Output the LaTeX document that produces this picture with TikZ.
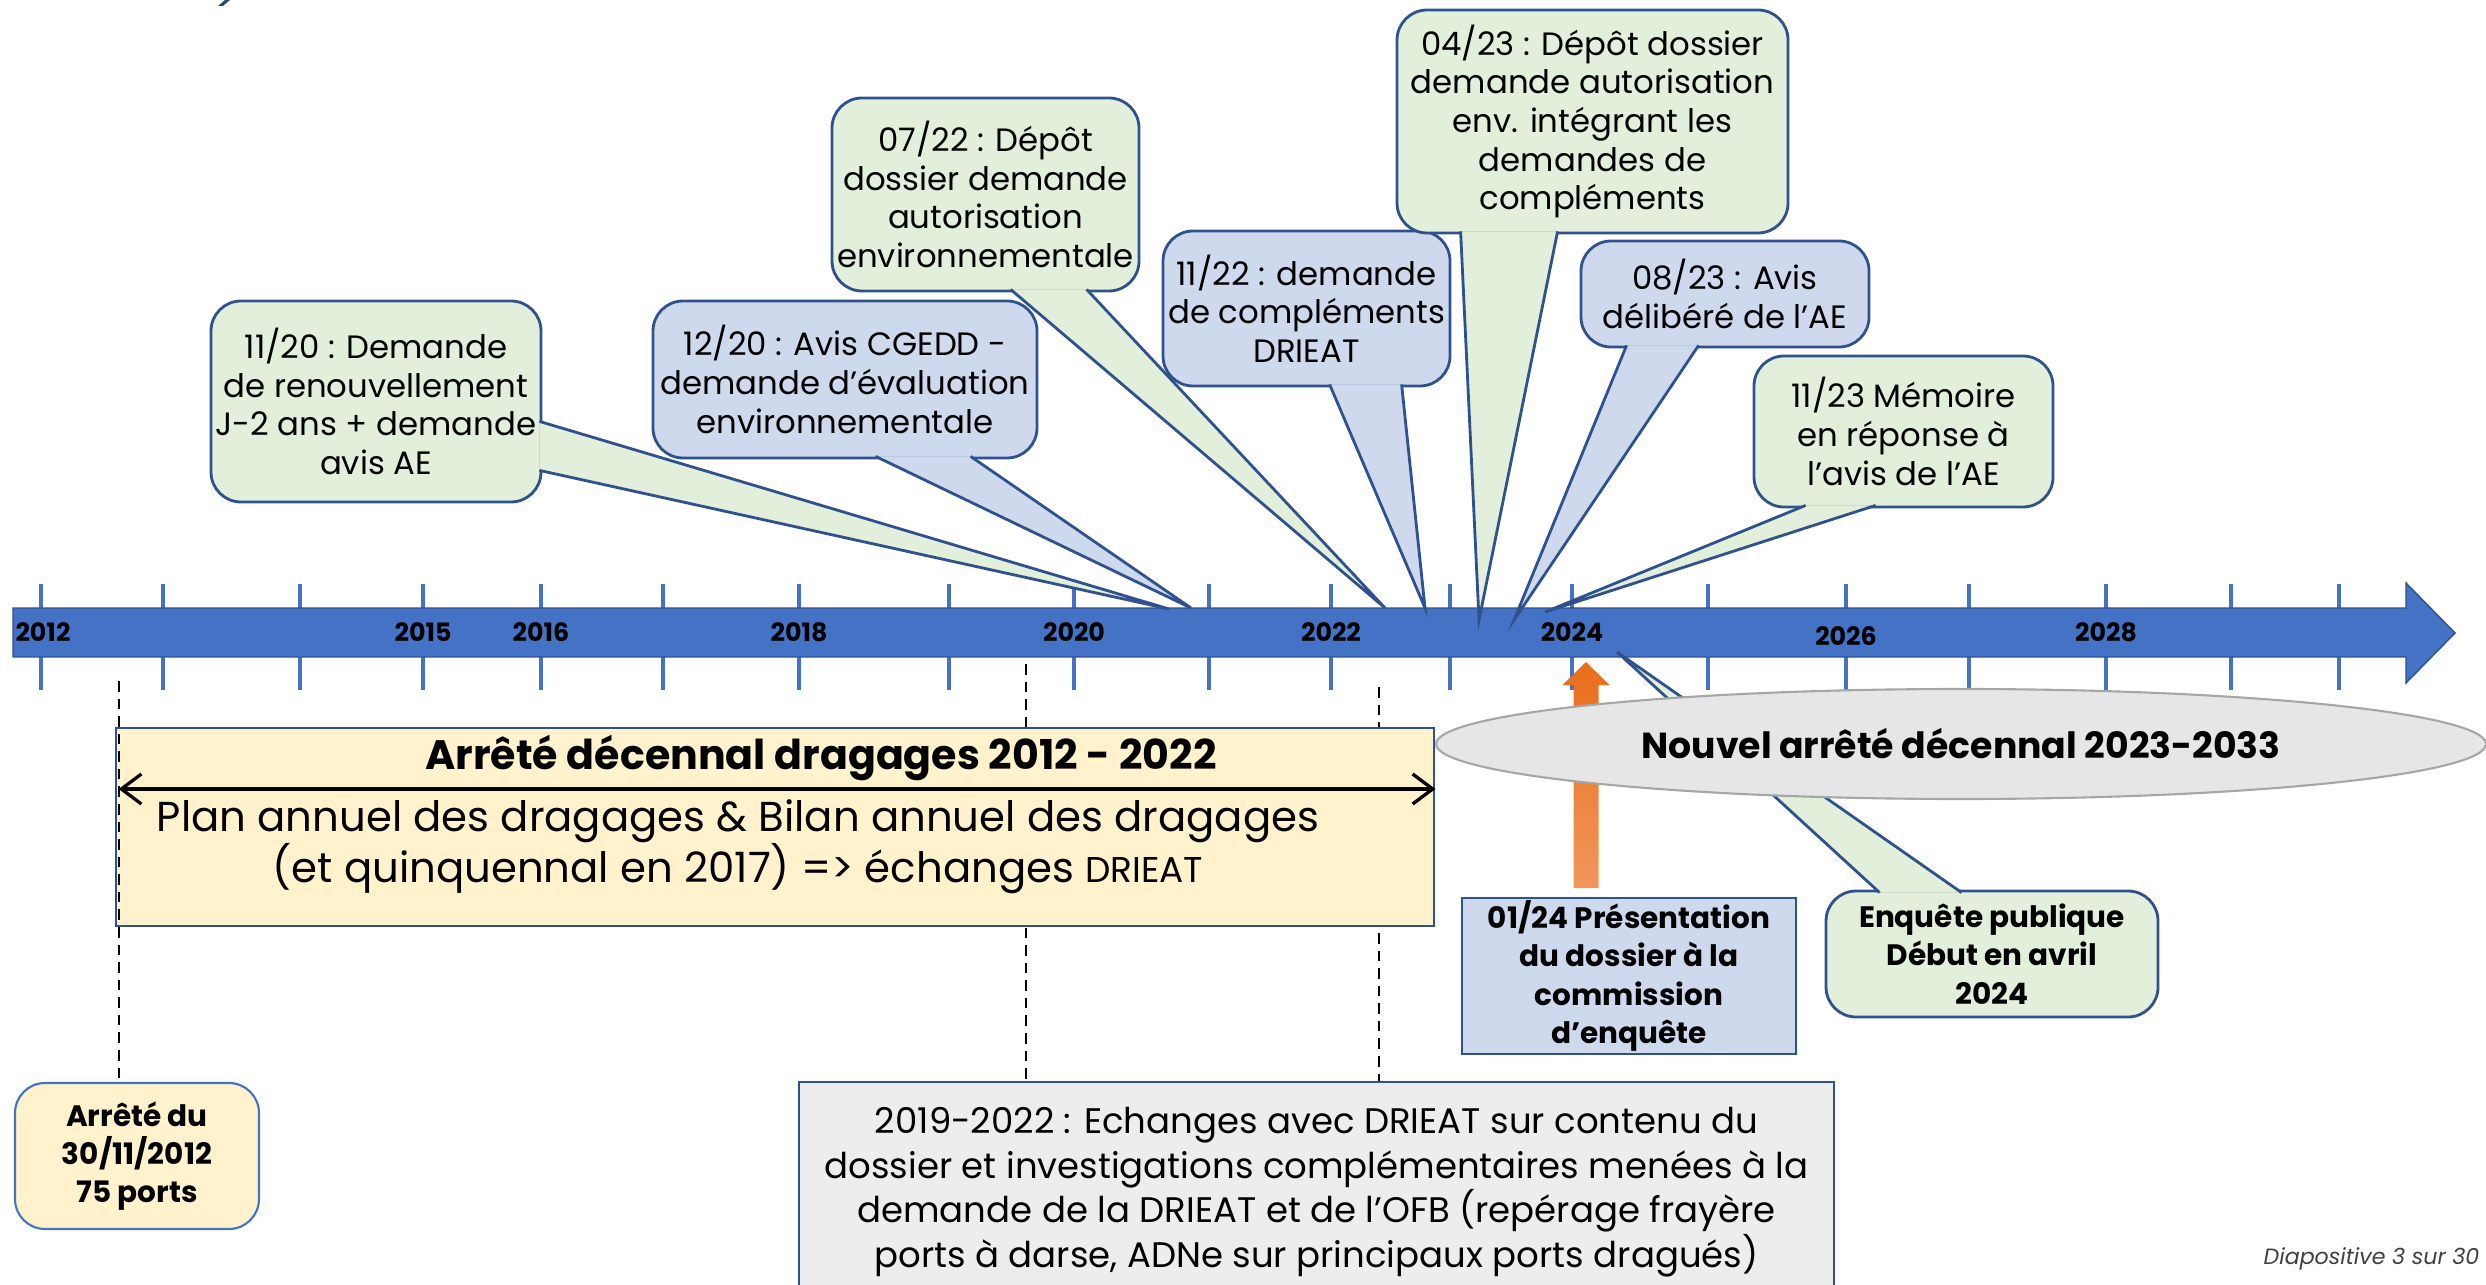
\documentclass[tikz,border=0pt]{standalone}
\usepackage{fontspec}
\setmainfont{Poppins}
\usetikzlibrary{calc,arrows.meta,shapes.geometric}
\definecolor{barblue}{HTML}{4472C4}
\definecolor{edgeblue}{HTML}{2F528F}
\definecolor{callgreen}{HTML}{E2EFDA}
\definecolor{callblue}{HTML}{CFD9EE}
\definecolor{pale}{HTML}{FFF2CC}
\definecolor{greybox}{HTML}{EDEDED}
\definecolor{greyoval}{HTML}{E6E6E6}
\definecolor{ovaledge}{HTML}{A6A6A6}
\definecolor{orgtop}{HTML}{E86E1A}
\definecolor{orgbot}{HTML}{F2965C}
\definecolor{titleteal}{HTML}{1F4E5A}
\def\callfont{\fontsize{9.2}{11}\selectfont}
\def\boldfont{\bfseries\fontsize{8.4}{10.9}\selectfont}
\def\yearfont{\bfseries\fontsize{7.2}{8}\selectfont}
\tikzset{
  gcall/.style={fill=callgreen, font=\callfont},
  bcall/.style={fill=callblue, font=\callfont},
  gcallbold/.style={fill=callgreen, font=\boldfont},
  dline/.style={black, line width=0.6pt, dash pattern=on 3pt off 2pt}
}
\def\callout(#1,#2,#3,#4,#5,#6,#7){
  \node[draw=edgeblue, line width=0.8pt, rounded corners=0.3cm, minimum width=#5cm, minimum height=#6cm, inner sep=0pt, align=center, #2] (#1) at (#3,#4) {#7};
}
\def\calltail(#1,#2,#3,#4,#5){
  \filldraw[draw=edgeblue, fill=#1, line width=0.8pt] ([shift={#3}]#2) -- (#5) -- ([shift={#4}]#2);
}

\begin{document}
\begin{tikzpicture}
\useasboundingbox (0,0) rectangle (24.86,12.84);
\fill[titleteal] (2.18,12.78) -- (2.23,12.78) -- (2.30,12.84) -- (2.25,12.84) -- cycle;
\foreach \x in {0.41,1.63,3.00,4.23,5.41,6.63,7.99,9.49,10.74,12.09,13.31,14.50,15.72,17.08,18.46,19.69,21.06,22.31,23.39}
  \draw[barblue, line width=0.9pt] (\x,5.94) -- (\x,7.00);
\filldraw[fill=barblue, draw=edgeblue, line width=0.4pt] (0.13,6.27) -- (24.06,6.27) -- (24.06,6.01) -- (24.55,6.51) -- (24.06,7.01) -- (24.06,6.76) -- (0.13,6.76) -- cycle;
\foreach \yr/\x/\y in {2012/0.43/6.52,2015/4.23/6.52,2016/5.41/6.52,2018/7.99/6.52,2020/10.74/6.52,2022/13.31/6.52,2024/15.72/6.52,2026/18.46/6.48,2028/21.06/6.52}
  \node[font=\yearfont, inner sep=0pt] (y\yr) at (\x,\y) {\yr};
\coordinate (t1120) at (11.69,6.75);
\coordinate (t1220) at (11.91,6.76);
\coordinate (t0722) at (13.85,6.76);
\coordinate (t1122) at (14.25,6.76);
\coordinate (t0423) at (14.79,6.64);
\coordinate (t0823) at (15.14,6.64);
\coordinate (t1123) at (15.45,6.72);
\coordinate (t0424) at (16.17,6.32);
\callout(c1120,gcall,3.76,8.825,3.30,2.01,{11/20 : Demande\\de renouvellement\\J-2 ans + demande\\avis AE})
\calltail(callgreen,c1120.south east,{(-0.03,0.82)},{(-0.03,0.33)},t1120)
\callout(c1220,bcall,8.45,9.045,3.84,1.57,{12/20 : Avis CGEDD -\\demande d’évaluation\\environnementale})
\calltail(callblue,c1220.south west,{(2.24,0.03)},{(3.19,0.03)},t1220)
\callout(c0722,gcall,9.855,10.895,3.07,1.93,{07/22 : Dépôt\\dossier demande\\autorisation\\environnementale})
\calltail(callgreen,c0722.south west,{(1.80,0.03)},{(2.56,0.03)},t0722)
\callout(c1122,bcall,13.065,9.755,2.87,1.55,{11/22 : demande\\de compléments\\DRIEAT})
\calltail(callblue,c1122.south west,{(1.68,0.03)},{(2.40,0.03)},t1122)
\callout(c0423,gcall,15.925,11.625,3.91,2.23,{04/23 : Dépôt dossier\\demande autorisation\\env. intégrant les\\demandes de\\compléments})
\calltail(callgreen,c0423.south west,{(0.65,0.03)},{(1.62,0.03)},t0423)
\callout(c0823,bcall,17.25,9.90,2.88,1.06,{08/23 : Avis\\délibéré de l’AE})
\calltail(callblue,c0823.south west,{(0.47,0.03)},{(1.19,0.03)},t0823)
\callout(c1123,gcall,19.035,8.525,2.99,1.51,{11/23 Mémoire\\en réponse à\\l’avis de l’AE})
\calltail(callgreen,c1123.south west,{(0.53,0.03)},{(1.23,0.03)},t1123)
\callout(enquete,gcallbold,19.92,3.30,3.32,1.26,{Enquête publique\\Début en avril\\2024})
\calltail(callgreen,enquete.north west,{(0.55,-0.03)},{(1.37,-0.03)},t0424)
\node[draw=edgeblue, fill=callblue, line width=0.8pt, minimum width=3.34cm, minimum height=1.56cm, inner sep=0pt, align=center, font=\boldfont] (present) at (16.29,3.08) {01/24 Présentation\\du dossier à la\\commission\\d’enquête};
\coordinate (o1) at (15.86,3.96);
\coordinate (o2) at (15.86,6.22);
\shade[top color=orgtop, bottom color=orgbot] ($(o1)+(-0.125,0)$) -- ($(o1)+(0.125,0)$) -- ($(o2)+(0.125,-0.23)$) -- ($(o2)+(0.235,-0.23)$) -- (o2) -- ($(o2)+(-0.235,-0.23)$) -- ($(o2)+(-0.125,-0.23)$) -- cycle;
\node[ellipse, draw=ovaledge, fill=greyoval, line width=0.6pt, minimum width=10.5cm, minimum height=1.1cm, inner sep=0pt, font=\bfseries\fontsize{10.3}{12}\selectfont] (nouvel) at (19.61,5.40) {Nouvel arrêté décennal 2023-2033};
\node[draw=barblue, fill=pale, line width=0.6pt, rounded corners=0.3cm, minimum width=2.44cm, minimum height=1.46cm, inner sep=0pt, align=center, font=\boldfont] (arrete) at (1.37,1.28) {Arrêté du\\30/11/2012\\75 ports};
\node[draw=edgeblue, fill=greybox, line width=0.8pt, minimum width=10.35cm, minimum height=2.2cm, inner sep=0pt, align=center, font=\fontsize{10.1}{12.7}\selectfont] (echanges) at (13.165,0.92) {2019-2022 : Echanges avec DRIEAT sur contenu du\\dossier et investigations complémentaires menées à la\\demande de la DRIEAT et de l’OFB (repérage frayère\\ports à darse, ADNe sur principaux ports dragués)};
\coordinate (q2019) at (10.26,6.20);
\coordinate (q2022) at (13.79,5.97);
\draw[dline] (q2019) -- (q2019 |- echanges.north);
\draw[dline] (q2022) -- (q2022 |- echanges.north);
\node[draw=edgeblue, fill=pale, line width=0.8pt, minimum width=13.18cm, minimum height=1.98cm, inner sep=0pt] (dec) at (7.75,4.57) {};
\node[font=\bfseries\fontsize{11.7}{13}\selectfont, inner sep=0pt] (dectitle) at (8.21,5.26) {Arrêté décennal dragages 2012 - 2022};
\draw[{Straight Barb[length=2mm,width=3mm]}-{Straight Barb[length=2mm,width=3mm]}, line width=0.95pt] ([xshift=0.04cm, yshift=0.38cm]dec.west) -- ([yshift=0.38cm]dec.east);
\node[align=center, font=\fontsize{11.9}{14.5}\selectfont, inner sep=0pt] (decbody) at (7.38,4.375) {Plan annuel des dragages \& Bilan annuel des dragages\\(et quinquennal en 2017) => échanges {\fontsize{10.2}{14.5}\selectfont DRIEAT}};
\coordinate (q2012) at (1.19,6.03);
\draw[dline] (q2012) -- (q2012 |- arrete.north);
\node[anchor=east, font=\itshape\fontsize{6.3}{7}\selectfont, text=black!75, inner sep=0pt] (slidenum) at (24.80,0.25) {Diapositive 3 sur 30};
\end{tikzpicture}
\end{document}
